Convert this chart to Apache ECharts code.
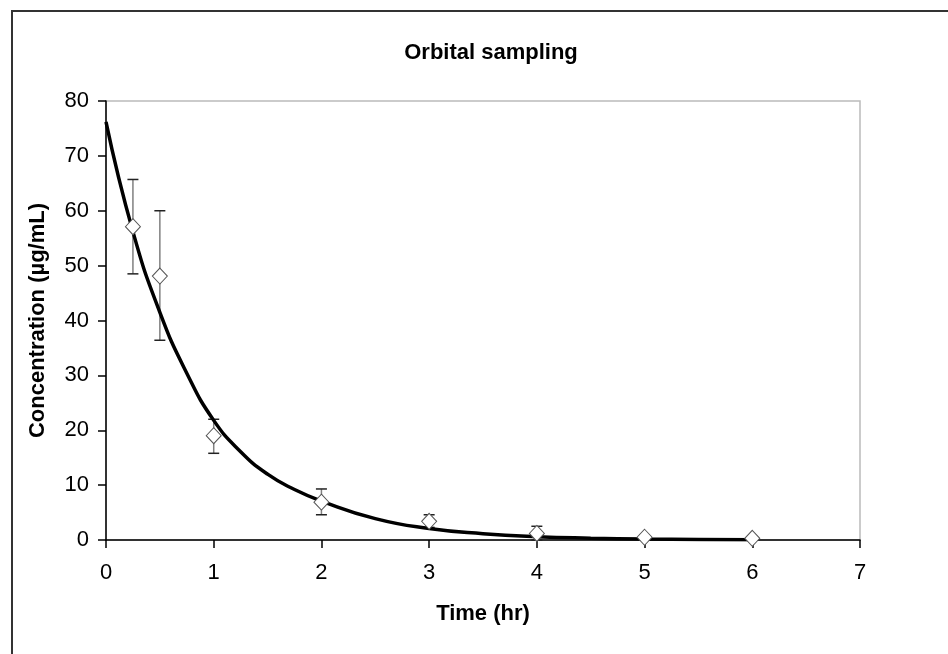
<!DOCTYPE html>
<html>
<head>
<meta charset="utf-8">
<script src="https://cdn.jsdelivr.net/npm/echarts@6/dist/echarts.min.js"></script>
<style>html,body{margin:0;padding:0;background:#fff;}#c{width:948px;height:654px;}</style>
</head>
<body>
<div id="c"></div>
<script>
// Observed data (time in hr, concentration in µg/mL)
const obsTime = [0.25, 0.5, 1, 2, 3, 4, 5, 6];
const obsMean = [57.1, 48.1, 19.0, 6.9, 3.4, 1.2, 0.5, 0.3];
const obsLow  = [48.5, 36.4, 15.8, 4.6, 2.3, 0.0, 0.2, 0.1];
const obsHigh = [65.7, 60.0, 22.0, 9.3, 4.6, 2.5, 0.8, 0.5];
// Fitted curve
const fitTime = [0, 0.25, 0.5, 0.75, 1, 1.25, 1.5, 1.75, 2, 2.5, 3, 3.5, 4, 4.5, 5, 5.5, 6];
const fitConc = [76.2, 56.2, 41.5, 30.4, 21.8, 16.1, 12.0, 9.2, 7.1, 3.9, 2.1, 1.15, 0.6, 0.33, 0.18, 0.1, 0.05];

const chart = echarts.init(document.getElementById('c'));
const font = 'Liberation Sans, Arial, sans-serif';
chart.setOption({
  backgroundColor: '#fff',
  animation: false,
  title: {
    text: 'Orbital sampling',
    left: 486, top: 37, textAlign: 'center',
    textStyle: {fontFamily: font, fontSize: 22, fontWeight: 'bold', color: '#000'}
  },
  graphic: [{
    type: 'rect', silent: true, z: 100,
    shape: {x: 12, y: 11, width: 1000, height: 700},
    style: {fill: 'none', stroke: '#333', lineWidth: 2}
  }],
  grid: {left: 106, right: 88, top: 101, bottom: 114, show: true, borderColor: '#bbb', borderWidth: 1.5, backgroundColor: '#fff'},
  xAxis: {
    type: 'value', min: 0, max: 7, interval: 1,
    name: 'Time (hr)', nameLocation: 'middle', nameGap: 63,
    nameTextStyle: {fontFamily: font, fontSize: 22, fontWeight: 'bold', color: '#000'},
    axisLine: {show: true, onZero: false, lineStyle: {color: '#000', width: 1.5}},
    axisTick: {show: true, inside: false, length: 8, lineStyle: {color: '#000', width: 1.5}},
    axisLabel: {fontFamily: font, fontSize: 22, color: '#000', margin: 22},
    splitLine: {show: false}
  },
  yAxis: {
    type: 'value', min: 0, max: 80, interval: 10,
    name: 'Concentration (µg/mL)', nameLocation: 'middle', nameGap: 57,
    nameTextStyle: {fontFamily: font, fontSize: 22, fontWeight: 'bold', color: '#000'},
    axisLine: {show: true, lineStyle: {color: '#000', width: 1.5}},
    axisTick: {show: true, inside: false, length: 8, lineStyle: {color: '#000', width: 1.5}},
    axisLabel: {fontFamily: font, fontSize: 22, color: '#000', margin: 17},
    splitLine: {show: false}
  },
  series: [
    {
      type: 'custom', z: 2,
      data: obsTime.map((t, i) => [t, obsLow[i], obsHigh[i]]),
      renderItem: function (params, api) {
        const lo = api.coord([api.value(0), api.value(1)]);
        const hi = api.coord([api.value(0), api.value(2)]);
        const w = 5.5;
        return {
          type: 'group',
          children: [
            {type: 'line', shape: {x1: lo[0], y1: lo[1], x2: hi[0], y2: hi[1]}, style: {stroke: '#808080', lineWidth: 1.5}},
            {type: 'line', shape: {x1: hi[0] - w, y1: hi[1], x2: hi[0] + w, y2: hi[1]}, style: {stroke: '#222', lineWidth: 1.5}},
            {type: 'line', shape: {x1: lo[0] - w, y1: lo[1], x2: lo[0] + w, y2: lo[1]}, style: {stroke: '#222', lineWidth: 1.5}}
          ]
        };
      }
    },
    {
      type: 'line', z: 3,
      data: fitTime.map((t, i) => [t, fitConc[i]]),
      smooth: 0.5, showSymbol: false, symbol: 'none',
      lineStyle: {color: '#000', width: 3.5}
    },
    {
      type: 'scatter', z: 4,
      data: obsTime.map((t, i) => [t, obsMean[i]]),
      symbol: 'diamond', symbolSize: [15, 16],
      itemStyle: {color: '#fff', borderColor: '#555', borderWidth: 1, opacity: 1}
    }
  ]
});
</script>
</body>
</html>
